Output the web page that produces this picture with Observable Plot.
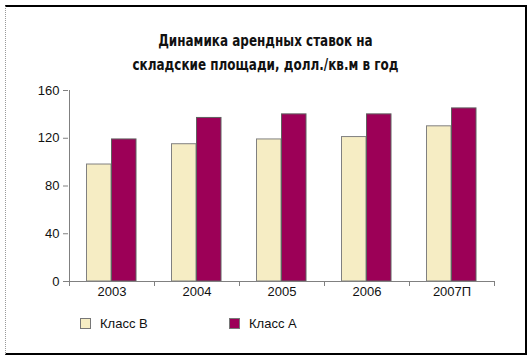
<!DOCTYPE html>
<html>
<head>
<meta charset="utf-8">
<script src="https://cdn.jsdelivr.net/npm/d3@7"></script>
<script src="https://cdn.jsdelivr.net/npm/@observablehq/plot@0.6"></script>
<style>
  html, body { margin: 0; padding: 0; background: #fff; }
  #wrap { position: relative; width: 531px; height: 360px; overflow: hidden; font-family: "Liberation Sans", Arial, sans-serif; }
  #frame { position: absolute; left: 5px; top: 5px; width: 519px; height: 346px;
    border-top: 2px solid #000; border-right: 2px solid #000; border-bottom: 2px solid #000; border-left: 1px dotted #999; }
  #title { position: absolute; left: 0; width: 531px; top: 29px; text-align: center;
    font-family: "DejaVu Sans Condensed", "Liberation Sans", sans-serif; font-weight: bold; font-size: 15.5px; line-height: 24px; color: #111;
    transform: scaleX(0.86); transform-origin: 265px 0; }
  #chart { position: absolute; left: 0; top: 70px; }
  .leg { position: absolute; top: 316px; font-size: 13px; color: #111; display: flex; align-items: center; }
  .sw { width: 9px; height: 9px; border: 1px solid #777; margin-right: 9px; }
</style>
</head>
<body>
<div id="wrap">
  <div id="frame"></div>
  <div id="title"></div>
  <div id="chart"></div>
  <div id="legend"></div>
</div>
<script>
const titleLines = ["Динамика арендных ставок на", "складские площади, долл./кв.м в год"];
const years = ["2003", "2004", "2005", "2006", "2007П"];
const classB = [98, 115, 119, 121, 130];
const classA = [119, 137, 140, 140, 145];
const seriesNames = ["Класс В", "Класс А"];
const seriesColors = ["#f6edc4", "#9c0057"];
const yTicks = [0, 40, 80, 120, 160];

document.getElementById("title").innerHTML = titleLines.join("<br>");

const rowsB = years.map((y, i) => ({year: y, series: seriesNames[0], value: classB[i]}));
const rowsA = years.map((y, i) => ({year: y, series: seriesNames[1], value: classA[i]}));

const chart = Plot.plot({
  width: 531,
  height: 240,
  marginTop: 20,
  marginBottom: 29,
  marginLeft: 68,
  marginRight: 36,
  style: {fontFamily: "Liberation Sans, Arial, sans-serif", fontSize: "13px", color: "#111", background: "transparent"},
  x: {domain: years, padding: 0, axis: null, label: null},
  y: {domain: [0, 160], axis: null, label: null},
  marks: [
    Plot.barY(rowsB, {x: "year", y: "value", fill: seriesColors[0], stroke: "#808080", strokeWidth: 1, insetLeft: 17.5, insetRight: 43}),
    Plot.barY(rowsA, {x: "year", y: "value", fill: seriesColors[1], stroke: "#606060", strokeWidth: 1, insetLeft: 42.5, insetRight: 18}),
    Plot.axisY({ticks: yTicks, tickSize: 5, tickPadding: 4, stroke: "#808080", fill: "#111", fontSize: 13, label: null}),
    Plot.axisX({tickSize: 0, tickPadding: 5, fill: "#111", fontSize: 13, label: null}),
    Plot.ruleY([0], {stroke: "#808080"})
  ]
});
document.getElementById("chart").appendChild(chart);

// y axis line and category boundary ticks, from Plot's own scales
const xs = chart.scale("x"), ys = chart.scale("y");
const svg = d3.select(chart);
const g = svg.append("g").attr("stroke", "#808080").attr("stroke-width", 1);
const x0 = xs.apply(years[0]);
g.append("line").attr("x1", x0 + 0.5).attr("x2", x0 + 0.5).attr("y1", ys.apply(160)).attr("y2", ys.apply(0));
const bounds = years.map(y => xs.apply(y)).concat([xs.apply(years[years.length - 1]) + xs.bandwidth]);
bounds.forEach(b => {
  g.append("line").attr("x1", b + 0.5).attr("x2", b + 0.5).attr("y1", ys.apply(0)).attr("y2", ys.apply(0) + 5);
});

// legend
const legend = document.getElementById("legend");
const legX = [80, 229];
seriesNames.forEach((name, i) => {
  const d = document.createElement("div");
  d.className = "leg";
  d.style.left = legX[i] + "px";
  d.innerHTML = `<span class="sw" style="background:${seriesColors[i]}"></span><span>${name}</span>`;
  legend.appendChild(d);
});
</script>
</body>
</html>
